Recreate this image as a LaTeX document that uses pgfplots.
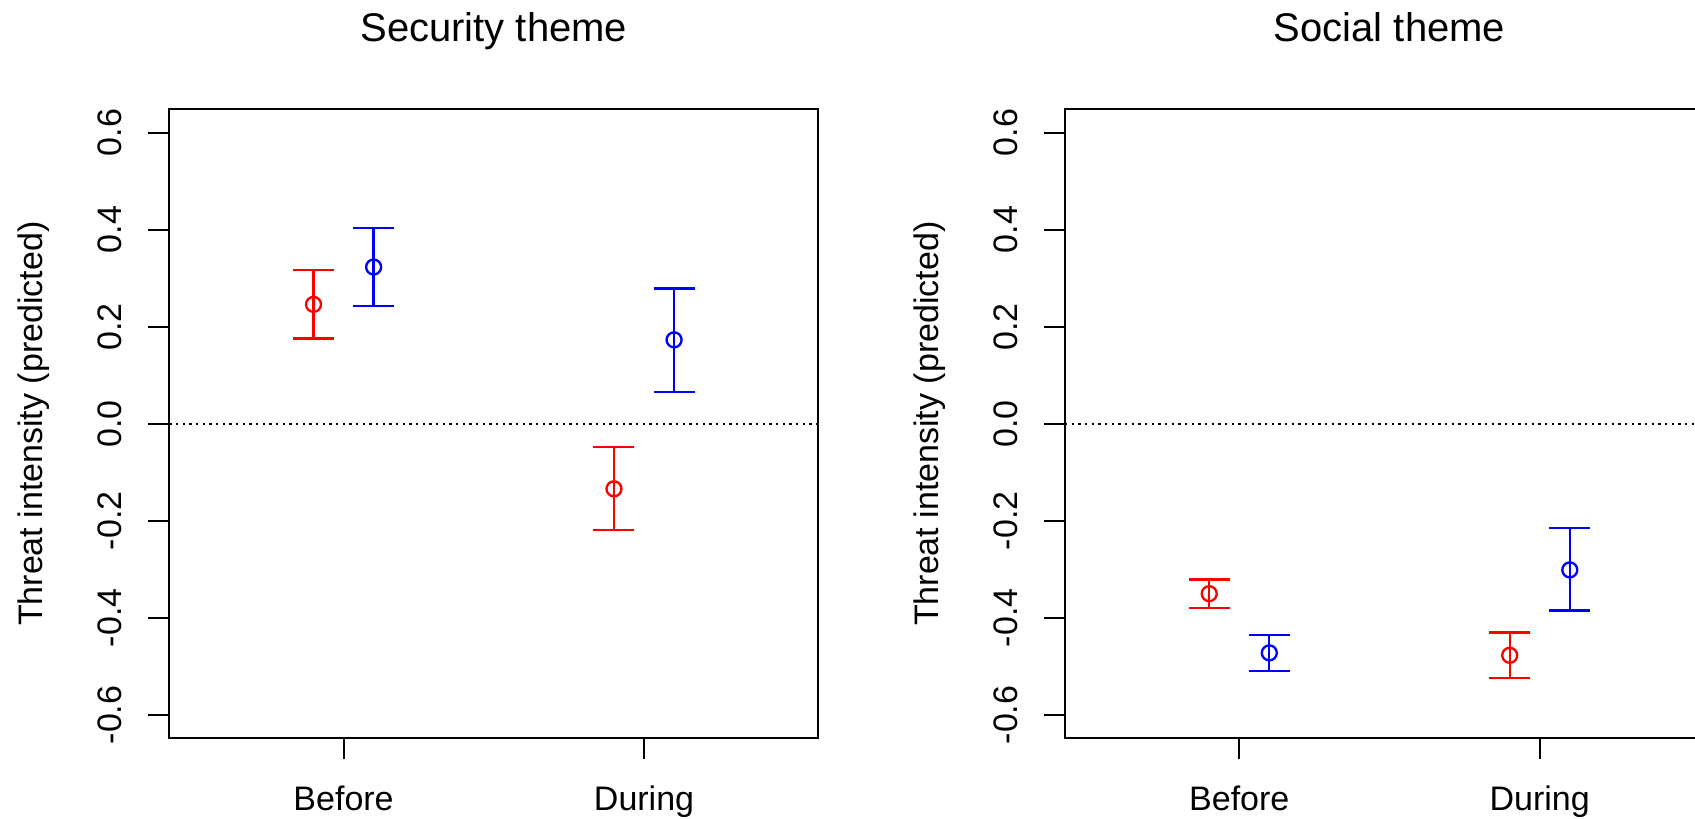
\documentclass[border=0pt]{standalone}
\usepackage{fontspec}
\setmainfont{Liberation Sans}
\usepackage{pgfplots}
\usepackage{pgfplotstable}
\pgfplotsset{compat=1.18}

% x  y  ep (up)  em (down)
\pgfplotstableread{
x   y      ep     em
0.9 0.246  0.071  0.070
1.9 -0.134 0.086  0.085
}\secred
\pgfplotstableread{
x   y      ep     em
1.1 0.323  0.080  0.080
2.1 0.173  0.106  0.107
}\secblue
\pgfplotstableread{
x   y      ep     em
0.9 -0.350 0.029  0.030
1.9 -0.477 0.047  0.047
}\socred
\pgfplotstableread{
x   y      ep     em
1.1 -0.472 0.037  0.038
2.1 -0.301 0.086  0.084
}\socblue

\pgfplotsset{
  myax/.style={
    scale only axis, width=194.7pt, height=188.7pt,
    xmin=0.42, xmax=2.58, ymin=-0.648, ymax=0.648,
    xtick={1,2}, xticklabels={Before,During},
    ytick={-0.6,-0.4,-0.2,0,0.2,0.4,0.6},
    yticklabels={-0.6,-0.4,-0.2,0.0,0.2,0.4,0.6},
    xtick pos=bottom, ytick pos=left, tick align=outside,
    major tick length=6.3pt,
    every tick/.style={black, line width=0.6pt},
    axis line style={line width=0.6pt},
    tick label style={font=\fontsize{10.2}{12}\selectfont},
    yticklabel style={rotate=90, anchor=base},
    yticklabel shift=8pt,
    xticklabel style={anchor=base},
    xticklabel shift=15.3pt,
    title style={at={(0.5,1)}, anchor=base, yshift=14.3pt, font=\fontsize{12}{14}\selectfont},
    every axis y label/.style={at={(axis description cs:-0.1951,0.5)}, rotate=90, anchor=base, font=\fontsize{10.2}{12}\selectfont},
    ylabel={Threat intensity (predicted)},
    clip=false,
  },
  errb/.style={only marks, mark=o, mark size=2.25pt, line width=0.7pt,
    mark options={line width=0.7pt},
    error bars/.cd, y dir=both, y explicit,
    error bar style={line width=0.7pt},
    error mark options={rotate=90, mark size=6.15pt, line width=0.7pt}},
}

\begin{document}
\begin{tikzpicture}
\useasboundingbox (0,0) rectangle (508.5pt,245.7pt);
\clip (0,0) rectangle (508.5pt,245.7pt);
\begin{axis}[myax, at={(50.79pt,24.21pt)}, anchor=south west, title={Security theme}]
\addplot[black, line width=0.6pt, dash pattern=on 0.7pt off 1.3pt] coordinates {(0.42,0) (2.58,0)};
\addplot[red, errb] table[x=x, y=y, y error plus=ep, y error minus=em] {\secred};
\addplot[blue, errb] table[x=x, y=y, y error plus=ep, y error minus=em] {\secblue};
\end{axis}
\begin{axis}[myax, at={(319.5pt,24.21pt)}, anchor=south west, title={Social theme}]
\addplot[black, line width=0.6pt, dash pattern=on 0.7pt off 1.3pt] coordinates {(0.42,0) (2.58,0)};
\addplot[red, errb] table[x=x, y=y, y error plus=ep, y error minus=em] {\socred};
\addplot[blue, errb] table[x=x, y=y, y error plus=ep, y error minus=em] {\socblue};
\end{axis}
\end{tikzpicture}
\end{document}
